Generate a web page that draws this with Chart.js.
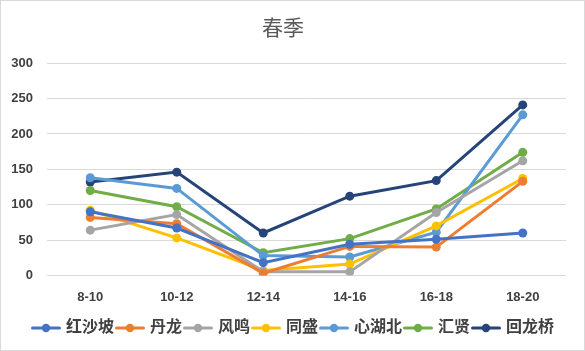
<!DOCTYPE html>
<html><head><meta charset="utf-8">
<script src="https://cdn.jsdelivr.net/npm/chart.js@4/dist/chart.umd.min.js"></script>
<style>html,body{margin:0;padding:0;background:#fff}canvas{display:block}</style>
</head><body>
<canvas id="c" width="585" height="351"></canvas>
<script>
const categories = ['8-10','10-12','12-14','14-16','16-18','18-20'];
const yTicks = [0,50,100,150,200,250,300];
const seriesNames = ['红沙坡','丹龙','风鸣','同盛','心湖北','汇贤','回龙桥'];
const hongshapo = [90, 67, 18, 44, 51, 60];
const danlong   = [82, 73, 3, 41, 40, 133];
const fengming  = [64, 86, 5, 5, 89, 162];
const tongsheng = [92, 53, 7, 16, 70, 137];
const xinhubei  = [138, 123, 28, 26, 61, 227];
const huixian   = [120, 97, 32, 52, 94, 174];
const huilongqiao = [132, 146, 60, 112, 134, 241];
const colors = ['#4472C4','#ED7D31','#A5A5A5','#FFC000','#5B9BD5','#70AD47','#264478'];
const seriesValues = [hongshapo, danlong, fengming, tongsheng, xinhubei, huixian, huilongqiao];

function markerImg(col){
  const cv = document.createElement('canvas');
  cv.width = 30; cv.height = 10;
  const x = cv.getContext('2d');
  x.strokeStyle = col; x.lineWidth = 3; x.lineCap='round';
  x.beginPath(); x.moveTo(1.5,5); x.lineTo(28.5,5); x.stroke();
  x.fillStyle = col; x.beginPath(); x.arc(15,5,4.2,0,Math.PI*2); x.fill();
  return cv;
}

const FONT = "'Liberation Sans','Noto Sans CJK SC',sans-serif";

const datasets = seriesNames.map((n,i)=>({
  label:n, data:seriesValues[i], borderColor:colors[i], backgroundColor:colors[i],
  borderWidth:3, pointRadius:4.5, pointHoverRadius:4.5, pointBorderWidth:0,
  pointStyle: 'circle', tension:0, fill:false
}));

const frame = {
  id:'frame',
  afterLayout(ch){
    if (ch.legend) { ch.legend.left += 11; ch.legend.right += 11; }
  },
  beforeDraw(ch){
    const c = ch.ctx; c.save();
    c.fillStyle='#fff'; c.fillRect(0,0,ch.width,ch.height);
    c.strokeStyle='#d9d9d9'; c.lineWidth=1;
    c.strokeRect(0.5,0.5,ch.width-1,ch.height-1);
    c.restore();
  }
};

new Chart(document.getElementById('c'), {
  type:'line',
  data:{labels:categories, datasets:datasets},
  options:{
    responsive:false, animation:false, devicePixelRatio:1,
    layout:{padding:{left:0,right:19,top:8,bottom:5}},
    plugins:{
      title:{display:true, text:'春季', color:'#595959',
        font:{family:FONT, size:21, weight:'normal'}, padding:{top:9,bottom:21}},
      legend:{position:'bottom',
        labels:{color:'#404040', font:{family:FONT, size:16, weight:'bold'},
          usePointStyle:true, pointStyleWidth:24, boxHeight:10, padding:4,
          generateLabels(ch){
            return ch.data.datasets.map((d,i)=>({text:d.label, fillStyle:d.borderColor,
              strokeStyle:d.borderColor, lineWidth:0, pointStyle:markerImg(d.borderColor),
              datasetIndex:i, hidden:false, fontColor:'#404040'}));
          }}},
      tooltip:{enabled:false}
    },
    scales:{
      x:{offset:true, grid:{display:false}, border:{display:false},
        afterFit(s){ s.height = s.height + 5; },
        ticks:{color:'#404040', font:{family:FONT, size:13, weight:'bold'}, padding:6}},
      y:{min:0, max:300, afterBuildTicks(s){ s.ticks = yTicks.map(v=>({value:v})); },
        afterFit(s){ s.width = 47; },
        grid:{color:'#d9d9d9', lineWidth:1, drawTicks:false}, border:{display:false},
        ticks:{color:'#404040', font:{family:FONT, size:13, weight:'bold'}, padding:14}}
    }
  },
  plugins:[frame]
});
</script>
</body></html>
